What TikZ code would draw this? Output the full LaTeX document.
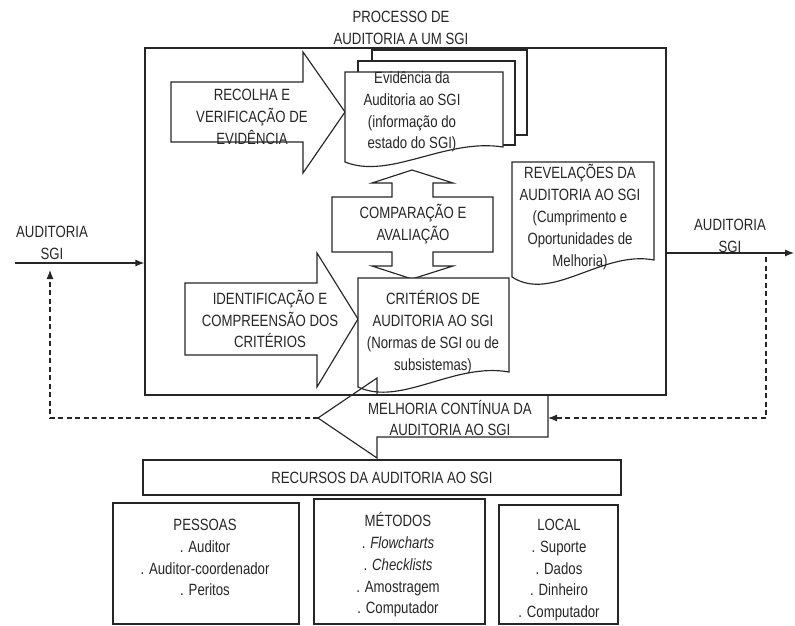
\documentclass[tikz,border=0pt]{standalone}
\usepackage{fontspec}
\setmainfont[FakeStretch=0.81]{Liberation Sans}
\usetikzlibrary{arrows.meta}
\begin{document}
\begin{tikzpicture}[x=1pt,y=-1pt,
  ln/.style={draw=black!85, line width=1.15pt, line join=miter},
  dashline/.style={draw=black!85, line width=1.15pt, dash pattern=on 5pt off 3.5pt},
  arr/.style={-{Latex[length=9pt,width=7pt]}},
  txt/.style={text=black!85, align=center, inner sep=0pt,
              font=\fontsize{16.3}{21.8}\selectfont},
  boxn/.style={ln, rectangle, inner sep=0pt}]
\useasboundingbox (0,0) rectangle (795,626);

% main process frame and its title
\node[boxn, minimum width=521pt, minimum height=347pt] (proc) at (405.5,221.5) {};
\node[txt] (title) at (401,28) {PROCESSO DE\\AUDITORIA A UM SGI};

% input and output of the process
\coordinate (inL) at (15,263);
\coordinate (outR) at (794,253);
\draw[ln, arr] (inL) -- (inL -| proc.west);
\draw[ln, arr] (proc.east |- outR) -- (outR);
\node[txt] (inLbl) at (52,243) {AUDITORIA\\SGI};
\node[txt] (outLbl) at (730,236) {AUDITORIA\\SGI};

% evidence collection block arrow
\draw[ln, fill=white] (171,82) -- (303,82) -- (303,52) -- (345,112) -- (303,173)
  -- (303,142) -- (171,142) -- cycle;
\node[txt] (recolha) at (252,117) {RECOLHA E\\VERIFICAÇÃO DE\\EVIDÊNCIA};

% criteria block arrow
\draw[ln, fill=white] (185,283) -- (317,283) -- (317,253) -- (358,319) -- (317,387)
  -- (317,355) -- (185,355) -- cycle;
\node[txt] (ident) at (270,319) {IDENTIFICAÇÃO E\\COMPREENSÃO DOS\\CRITÉRIOS};

% stacked evidence documents
\draw[ln] (372,61) -- (372,50) -- (527,50) -- (527,135) -- (515,135);
\draw[ln] (358,72) -- (358,61) -- (515,61) -- (515,145) -- (503,145);
\draw[ln, fill=white] (345,72) -- (503,72) -- (503,147)
  .. controls (445,138) and (390,180) .. (345,162) -- cycle;
\node[txt] (evid) at (412,112) {Evidência da\\Auditoria ao SGI\\(informação do\\estado do SGI)};

% comparison double arrow
\draw[ln, fill=white] (412,170) -- (453,183) -- (433,183) -- (433,197) -- (493,197)
  -- (493,252) -- (433,252) -- (433,266) -- (453,266) -- (412,279) -- (372,266)
  -- (392,266) -- (392,252) -- (332,252) -- (332,197) -- (392,197) -- (392,183)
  -- (372,183) -- cycle;
\node[txt] (comp) at (413,224) {COMPARAÇÃO E\\AVALIAÇÃO};

% criteria document
\draw[ln, fill=white] (358,278) -- (509,278) -- (509,372)
  .. controls (454,362) and (401,407) .. (358,387) -- cycle;
\node[txt] (crit) at (433,332) {CRITÉRIOS DE\\AUDITORIA AO SGI\\(Normas de SGI ou de\\subsistemas)};

% findings document
\draw[ln, fill=white] (512,162) -- (654,162) -- (654,260)
  .. controls (602,250) and (552,303) .. (512,277) -- cycle;
\node[txt] (revel) at (580,217) {REVELAÇÕES DA\\AUDITORIA AO SGI\\(Cumprimento e\\Oportunidades de\\Melhoria)};

% continual improvement block arrow
\draw[ln] (548,395) -- (377,395) -- (377,378) -- (318,418) -- (377,458)
  -- (377,437) -- (548,437) -- cycle;
\node[txt] (melh) at (450,418) {MELHORIA CONTÍNUA DA\\AUDITORIA AO SGI};
\coordinate (melTip) at (318,418);
\coordinate (melEnd) at (548,418);

% feedback loops
\coordinate (fbUp) at (50,270);
\coordinate (fbDown) at (766,257);
\draw[dashline, arr] (melTip) -- (melTip -| fbUp) -- (fbUp);
\draw[dashline, arr] (fbDown) -- (fbDown |- melEnd) -- (melEnd);

% audit resources
\node[boxn, txt, minimum width=478pt, minimum height=35pt] (rec) at (382,477.5)
  {RECURSOS DA AUDITORIA AO SGI};

\node[boxn, minimum width=186pt, minimum height=121pt] (pess) at (206,563.5) {};
\node[boxn, minimum width=171pt, minimum height=125pt] (meto) at (399.5,561.5) {};
\node[boxn, minimum width=119pt, minimum height=119pt] (loc) at (558.5,564.5) {};

\node[txt] (pessT) at (205,557.5) {PESSOAS\\. Auditor\\. Auditor-coordenador\\. Peritos};
\node[txt] (metoT) at (398,565) {MÉTODOS\\. \textit{Flowcharts}\\. \textit{Checklists}\\. Amostragem\\. Computador};
\node[txt] (locT) at (559,570) {LOCAL\\. Suporte\\. Dados\\. Dinheiro\\. Computador};
\end{tikzpicture}
\end{document}
